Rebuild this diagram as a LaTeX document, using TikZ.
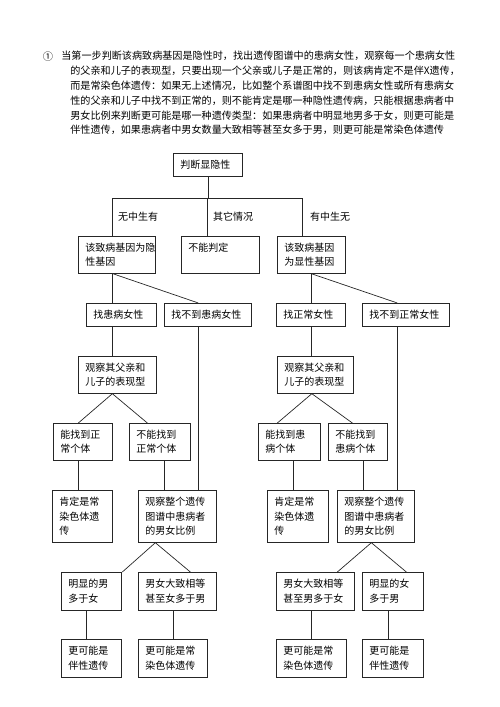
\documentclass[tikz,border=0pt]{standalone}
\usepackage{fontspec}
\setmainfont{Liberation Serif}
\newfontfamily\cjk{Noto Sans CJK SC}
\begin{document}
\begin{tikzpicture}
  [x=1pt,y=-1pt,line width=.7pt,draw=black!85,
   box/.style={draw,anchor=north west,align=left,inner xsep=7pt,inner ysep=0pt,
     font=\cjk\fontsize{10}{14.5}\selectfont},
   lbl/.style={font=\cjk\fontsize{10}{12}\selectfont}]
  \useasboundingbox (0,0) rectangle (500,707);

  % note above the chart
  \node[font=\cjk\fontsize{10.2}{12}\selectfont] (num) at (48,57) {①};
  \node[anchor=north west,inner sep=0pt,text width=400pt,align=left,
    font=\cjk\fontsize{10.1}{14.8}\selectfont] (note) at (70,51)
    {\hspace*{-9pt}当第一步判断该病致病基因是隐性时，找出遗传图谱中的患病女性，观察每一个患病女性\\
     的父亲和儿子的表现型，只要出现一个父亲或儿子是正常的，则该病肯定不是伴X遗传，\\
     而是常染色体遗传：如果无上述情况，比如整个系谱图中找不到患病女性或所有患病女\\
     性的父亲和儿子中找不到正常的，则不能肯定是哪一种隐性遗传病，只能根据患病者中\\
     男女比例来判断更可能是哪一种遗传类型：如果患病者中明显地男多于女，则更可能是\\
     伴性遗传，如果患病者中男女数量大致相等甚至女多于男，则更可能是常染色体遗传};

  \node[box,text width=55pt,minimum height=23pt] (judge) at (173,153) {判断显隐性};

  \node[box,text width=63pt,minimum height=37pt] (recessive) at (78,236) {该致病基因为隐\\性基因};
  \node[box,text width=64pt,minimum height=37pt] (unknown) at (181,236) {不能判定\\\mbox{}};
  \node[box,text width=54pt,minimum height=37pt] (dominant) at (277,236) {该致病基因\\为显性基因};

  \node[lbl] (gainL) at (138,217) {无中生有};
  \node[lbl] (other) at (233,217) {其它情况};
  \node[lbl] (gainR) at (330,217) {有中生无};

  \node[box,text width=56pt,minimum height=23pt] (findAff) at (86,303) {找患病女性};
  \node[box,text width=73pt,minimum height=23pt] (noAff) at (164,303) {找不到患病女性};
  \node[box,text width=55pt,minimum height=23pt] (findNorm) at (276,303) {找正常女性};
  \node[box,text width=73pt,minimum height=23pt] (noNorm) at (362,303) {找不到正常女性};

  \node[box,text width=64pt,minimum height=37pt] (watchL) at (78,356) {观察其父亲和\\儿子的表现型};
  \node[box,text width=62pt,minimum height=37pt] (watchR) at (277,356) {观察其父亲和\\儿子的表现型};

  \node[box,text width=45pt,minimum height=37pt] (normYes) at (53,423) {能找到正\\常个体};
  \node[box,text width=47pt,minimum height=37pt] (normNo) at (129,423) {不能找到\\正常个体};
  \node[box,text width=48pt,minimum height=37pt] (affYes) at (258,423) {能找到患\\病个体};
  \node[box,text width=45pt,minimum height=37pt] (affNo) at (328,423) {不能找到\\患病个体};

  \node[box,text width=46pt,minimum height=52pt] (autoL) at (52,490) {肯定是常\\染色体遗\\传};
  \node[box,text width=64pt,minimum height=52pt] (ratioL) at (138,490) {观察整个遗传\\图谱中患病者\\的男女比例};
  \node[box,text width=47pt,minimum height=52pt] (autoR) at (267,490) {肯定是常\\染色体遗\\传};
  \node[box,text width=63pt,minimum height=52pt] (ratioR) at (337,490) {观察整个遗传\\图谱中患病者\\的男女比例};

  \node[box,text width=46pt,minimum height=38pt] (maleL) at (61,572) {明显的男\\多于女};
  \node[box,text width=64pt,minimum height=38pt] (equalL) at (138,572) {男女大致相等\\甚至女多于男};
  \node[box,text width=64pt,minimum height=38pt] (equalR) at (276,572) {男女大致相等\\甚至男多于女};
  \node[box,text width=47pt,minimum height=38pt] (femaleR) at (362,572) {明显的女\\多于男};

  \node[box,text width=46pt,minimum height=38pt] (sexL) at (61,639) {更可能是\\伴性遗传};
  \node[box,text width=55pt,minimum height=38pt] (autoL2) at (138,639) {更可能是常\\染色体遗传};
  \node[box,text width=56pt,minimum height=38pt] (autoR2) at (276,639) {更可能是常\\染色体遗传};
  \node[box,text width=47pt,minimum height=38pt] (sexR) at (362,639) {更可能是\\伴性遗传};

  % columns of the vertical links
  \foreach \n/\x in {1/112,2/198,3/78,4/164,5/86,6/173,7/311,8/397,9/293,10/363,11/388}
    \coordinate (col\n) at (\x,0);
  \coordinate (hub) at (207,198);
  \coordinate (barL) at (112,198);
  \coordinate (barR) at (302,198);

  \draw (judge.south) -- (judge.south |- hub);
  \draw (barL |- recessive.north) -- (barL) -- (barR) -- (barR |- dominant.north);
  \draw (hub) -- (hub |- unknown.north);

  \draw (recessive.south -| col1) -- (findAff.north -| col1);
  \draw (findAff.south -| col1) -- (watchL.north -| col1);
  \draw (noAff.south -| col2) -- (ratioL.north -| col2);
  \draw (normYes.south -| col3) -- (autoL.north -| col3);
  \draw (normNo.south -| col4) -- (ratioL.north -| col4);
  \draw (maleL.south -| col5) -- (sexL.north -| col5);
  \draw (equalL.south -| col6) -- (autoL2.north -| col6);

  \draw (dominant.south -| col7) -- (findNorm.north -| col7);
  \draw (findNorm.south -| col7) -- (watchR.north -| col7);
  \draw (noNorm.south -| col8) -- (ratioR.north -| col8);
  \draw (affYes.south -| col9) -- (autoR.north -| col9);
  \draw (affNo.south -| col10) -- (ratioR.north -| col10);
  \draw (equalR.south -| col7) -- (autoR2.north -| col7);
  \draw (femaleR.south -| col11) -- (sexR.north -| col11);

  \draw ([xshift=-4]recessive.south) -- ([xshift=-9.5]noAff.north);
  \draw (dominant.south) -- ([xshift=-8.5]noNorm.north);
  \draw ([xshift=-4.5]normYes.north) -- ([xshift=-5]watchL.south) -- ([xshift=-12.5]normNo.north);
  \draw ([xshift=-12]affYes.north) -- ([xshift=-3.5]watchR.south) -- ([xshift=-5.5]affNo.north);
  \draw ([xshift=31]maleL.north) -- ([xshift=-22]ratioL.south) -- ([xshift=13]equalL.north);
  \draw ([xshift=22]equalR.north) -- ([xshift=-4.5]ratioR.south) -- ([xshift=13.5]femaleR.north);
\end{tikzpicture}
\end{document}
